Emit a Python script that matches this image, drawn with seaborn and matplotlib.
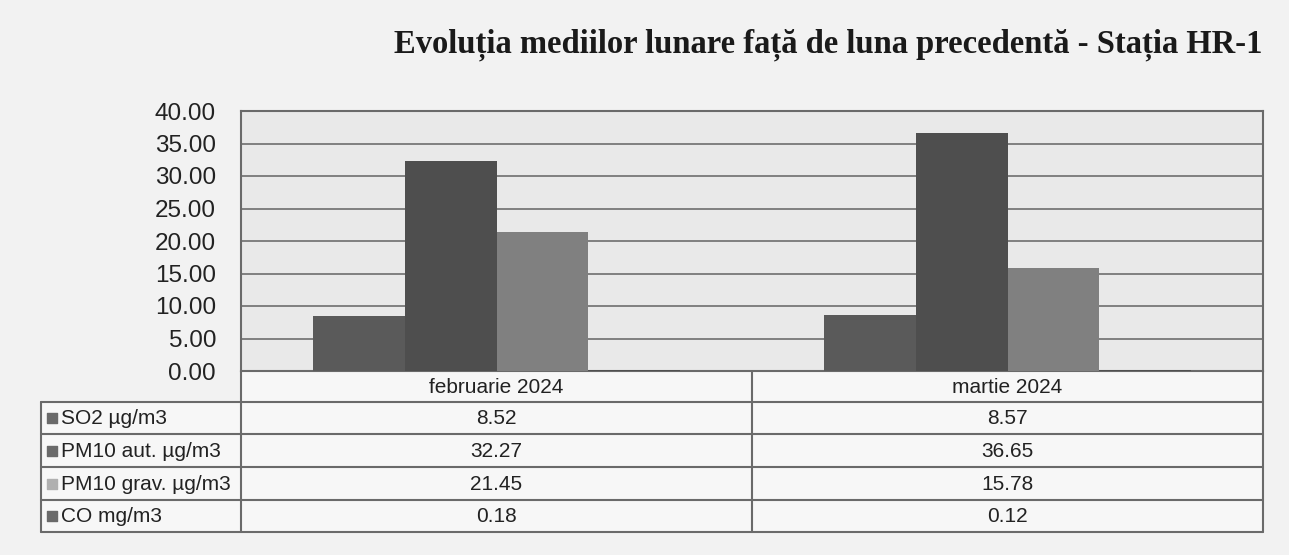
import pandas as pd
import matplotlib.pyplot as plt
import seaborn as sns

luni = ["februarie 2024", "martie 2024"]
poluanti = ["SO2 µg/m3", "PM10 aut. µg/m3", "PM10 grav. µg/m3", "CO mg/m3"]
so2 = [8.52, 8.57]
pm10_aut = [32.27, 36.65]
pm10_grav = [21.45, 15.78]
co = [0.18, 0.12]

culori = ["#5a5a5a", "#4e4e4e", "#808080", "#505050"]
culori_legenda = ["#6a6a6a", "#6a6a6a", "#b0b0b0", "#6a6a6a"]

serii = [so2, pm10_aut, pm10_grav, co]
rows = []
for nume, vals in zip(poluanti, serii):
    for luna, v in zip(luni, vals):
        rows.append({"luna": luna, "poluant": nume, "valoare": v})
df = pd.DataFrame(rows)

sns.set_style("white")
plt.rcParams["font.family"] = ["Liberation Sans", "DejaVu Sans"]

W, H = 1289, 555
fig = plt.figure(figsize=(W / 100, H / 100), dpi=100)
fig.patch.set_facecolor("#f2f2f2")

# plot area in pixel terms
px_l, px_r, px_t, px_b = 241, 1263, 111, 371
ax = fig.add_axes([px_l / W, 1 - px_b / H, (px_r - px_l) / W, (px_b - px_t) / H])
ax.set_facecolor("#e9e9e9")

sns.barplot(data=df, x="luna", y="valoare", hue="poluant", order=luni,
            hue_order=poluanti, palette=culori, width=0.72, gap=0,
            saturation=1, linewidth=0, legend=False, ax=ax, zorder=3)

ax.set_xlim(-0.5, 1.5)
ax.set_ylim(0, 40)
ax.set_yticks(range(0, 41, 5))
ax.set_yticklabels([f"{v:.2f}" for v in range(0, 41, 5)], fontsize=17.5, color="#222222")
ax.yaxis.grid(True, color="#777777", linewidth=1.3, zorder=0)
ax.set_axisbelow(True)
ax.tick_params(axis="y", length=0, pad=18)
ax.set_xticks([])
ax.set_xlabel("")
ax.set_ylabel("")
for s in ax.spines.values():
    s.set_color("#6a6a6a")
    s.set_linewidth(1.5)

# data table under the chart, drawn in pixel coordinates
tab = fig.add_axes([0, 0, 1, 1], zorder=-1)
tab.set_xlim(0, W)
tab.set_ylim(H, 0)
tab.axis("off")
tab.patch.set_alpha(0)

row_y = [371, 402, 434, 467, 500, 532]
tab_l, col_split = 41, 752
lc = "#6a6a6a"
tab.fill_between([px_l, px_r], row_y[0], row_y[-1], color="#f7f7f7", zorder=0)
tab.fill_between([tab_l, px_l], row_y[1], row_y[-1], color="#f7f7f7", zorder=0)
for y in row_y[1:]:
    tab.plot([tab_l, px_r], [y, y], color=lc, lw=1.5, zorder=1)
tab.plot([tab_l, tab_l], [row_y[1], row_y[-1]], color=lc, lw=1.5)
for x in [px_l, col_split, px_r]:
    tab.plot([x, x], [row_y[0], row_y[-1]], color=lc, lw=1.5)

centre = [(px_l + col_split) / 2, (col_split + px_r) / 2]
for c, luna in zip(centre, luni):
    tab.text(c, (row_y[0] + row_y[1]) / 2 + 1, luna, ha="center", va="center",
             fontsize=15, color="#222222")
for i, (nume, vals) in enumerate(zip(poluanti, serii)):
    yc = (row_y[i + 1] + row_y[i + 2]) / 2 + 1
    tab.scatter([52], [yc - 1], marker="s", s=48, color=culori_legenda[i], zorder=2)
    tab.text(61, yc, nume, ha="left", va="center", fontsize=15, color="#222222")
    for c, v in zip(centre, vals):
        tab.text(c, yc, f"{v:.2f}", ha="center", va="center", fontsize=15, color="#222222")

fig.text(px_r / W, 1 - 45 / H, "Evoluția mediilor lunare față de luna precedentă - Stația HR-1",
         ha="right", va="center", fontsize=23.5, fontweight="bold",
         family=["Liberation Serif", "DejaVu Serif"], color="#1a1a1a")

fig.savefig("out.png", dpi=100, facecolor=fig.get_facecolor())
